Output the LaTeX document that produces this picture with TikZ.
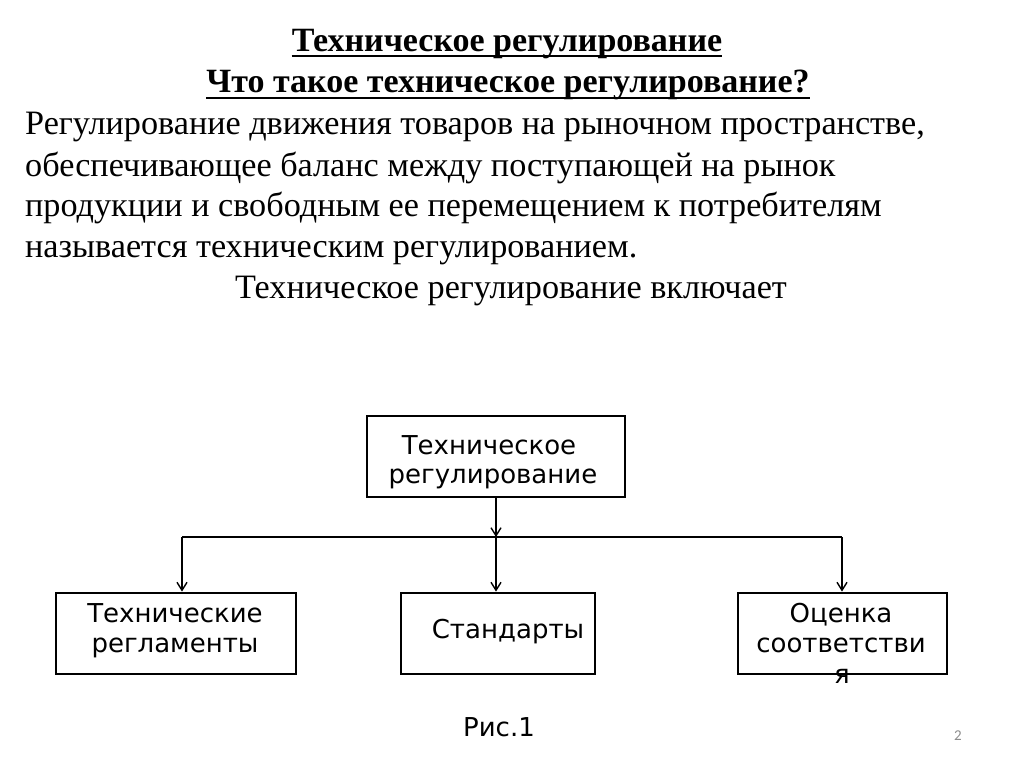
\documentclass[tikz,border=0pt]{standalone}
\usepackage{fontspec}
\setmainfont{Liberation Serif}
\newfontfamily\dejavu{DejaVu Sans}
\newfontfamily\carl{Carlito}
\usetikzlibrary{arrows.meta}
\begin{document}
\begin{tikzpicture}[x=1pt,y=-1pt,
  box/.style={draw, line width=2.8pt, inner sep=0pt},
  boxtext/.style={anchor=base, inner sep=0pt, font=\dejavu\fontsize{26}{30}\selectfont},
  body/.style={anchor=base west, inner sep=0pt, font=\fontsize{34.2}{40}\selectfont},
  ttl/.style={anchor=base, inner sep=0pt, font=\bfseries\fontsize{34}{38}\selectfont},
  conn/.style={line width=1.4pt, -{Straight Barb[length=8pt,width=10pt,line width=1.4pt]}},
  plain/.style={line width=1.4pt}]
\useasboundingbox[fill=white] (0,0) rectangle (1024,767);
% titles
\node[ttl] (t1) at (507,52) {Техническое регулирование};
\node[ttl] (t2) at (508,93) {Что такое техническое регулирование?};
\draw[line width=2pt] ([yshift=-4.5pt]t1.base west) -- ([yshift=-4.5pt]t1.base east);
\draw[line width=2pt] ([yshift=-5pt]t2.base west) -- ([yshift=-5pt]t2.base east);
% body
\node[body] (b1) at (25,135) {Регулирование движения товаров на рыночном пространстве,};
\node[body] (b2) at (25,177) {обеспечивающее баланс между поступающей на рынок};
\node[body] (b3) at (25,217) {продукции и свободным ее перемещением к потребителям};
\node[body] (b4) at (25,257) {называется техническим регулированием.};
\node[body, anchor=base] (b5) at (511,298) {Техническое регулирование включает};
% boxes
\node[box, minimum width=258pt, minimum height=81pt] (top) at (496,456.5) {};
\node[box, minimum width=240pt, minimum height=81pt] (left) at (176,633.5) {};
\node[box, minimum width=194pt, minimum height=81pt] (mid) at (498,633.5) {};
\node[box, minimum width=209pt, minimum height=81pt] (right) at (842.5,633.5) {};
% box texts
\node[boxtext] (top1) at (489,454) {Техническое};
\node[boxtext] (top2) at (493,483) {регулирование};
\node[boxtext] (left1) at (175,622) {Технические};
\node[boxtext] (left2) at (175,652) {регламенты};
\node[boxtext] (mid1) at (508,638) {Стандарты};
\node[boxtext] (right1) at (841,622) {Оценка};
\node[boxtext] (right2) at (841,652) {соответстви};
\node[boxtext] (right3) at (842,683) {я};
% connectors
\coordinate (j) at (496,537);
\coordinate (jl) at (182,537);
\coordinate (jr) at (842,537);
\draw[conn] (top.south -| j) -- (j);
\draw[plain] (jl) -- (jr);
\draw[conn] (jl) -- (jl |- left.north);
\draw[conn] (j) -- (j |- mid.north);
\draw[conn] (jr) -- (jr |- right.north);
% caption
\node[boxtext] (cap) at (499,736) {Рис.1};
\node[anchor=base, inner sep=0pt, text=black!45, font=\carl\fontsize{15}{18}\selectfont] (pg) at (958,740) {2};
\end{tikzpicture}
\end{document}
